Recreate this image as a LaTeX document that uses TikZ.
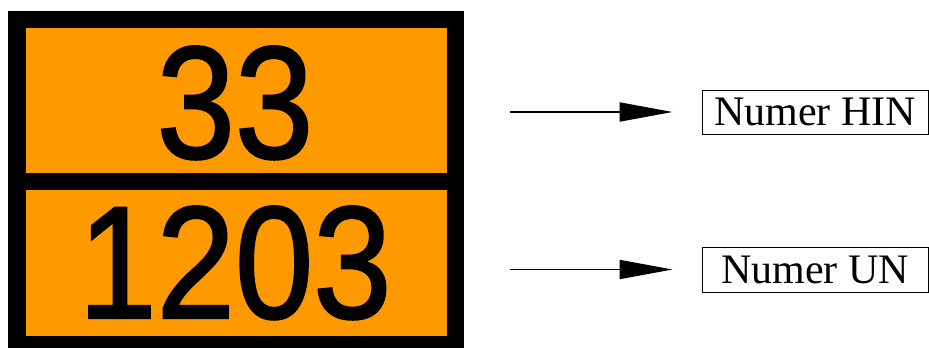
\documentclass[tikz,border=0pt]{standalone}
\usepackage{fontspec}
\setmainfont{Liberation Serif}
\newfontfamily\platefont[FakeBold=1.5]{Liberation Sans}
\usetikzlibrary{arrows.meta}
\definecolor{plateorange}{RGB}{255,153,0}
\tikzset{
  platebg/.style={fill=black},
  panel/.style={fill=plateorange},
  digits/.style={inner sep=0pt, anchor=base, text height=116pt, text depth=0pt, font=\platefont\fontsize{160}{160}\selectfont},
  labelbox/.style={draw=black, line width=0.8pt, minimum width=226pt, minimum height=44pt, inner sep=0pt, font=\fontsize{42}{42}\selectfont},
  pointer/.style={line width=1.8pt, -{Triangle[length=53pt,width=19pt]}}
}
\begin{document}
\begin{tikzpicture}[x=1pt,y=-1pt]
\useasboundingbox (0,0) rectangle (929,348);
% plate
\fill[platebg] (8,11) rectangle (464,348);
\fill[panel] (26,28) rectangle (447,173);
\fill[panel] (26,190) rectangle (447,336);
\node[digits] (hin) at (235,158) {\scalebox{0.88}[1]{33}};
\node[digits] (un) at (235,318) {\scalebox{0.88}[1]{1203}};
% labels
\node[labelbox] (hinbox) at (815,112) {Numer HIN};
\node[labelbox, minimum height=45pt] (unbox) at (815,269.5) {Numer UN};
\coordinate (s1) at (510,112);
\coordinate (s2) at (510,269.5);
\draw[pointer, shorten >=29pt] (s1) -- (hinbox.west);
\draw[pointer, shorten >=29pt] (s2) -- (unbox.west);
\end{tikzpicture}
\end{document}
